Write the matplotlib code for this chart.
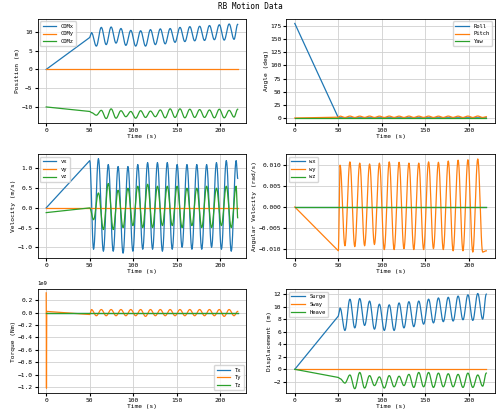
import matplotlib
matplotlib.use("Agg")
import matplotlib.pyplot as plt
import numpy as np

plt.rcParams["font.family"] = ["DejaVu Sans Mono"]
plt.rcParams["font.size"] = 4.5

# time grids (s): start, end of ramp, then extrema of the oscillation
t_pos = [0, 50, 52, 57.6, 63.3, 68.9, 74.6, 80.2, 85.9, 91.5, 97.2, 102.8, 108.5, 114.1,
         119.8, 125.4, 131.1, 136.7, 142.4, 148, 153.7, 159.3, 165, 170.6, 176.3, 181.9,
         187.6, 193.2, 198.9, 204.5, 210.2, 215.8, 220]
t_vel = [0, 50, 54.4, 60.0, 65.7, 71.3, 77.0, 82.6, 88.3, 93.9, 99.6, 105.2, 110.9, 116.5,
         122.2, 127.8, 133.5, 139.1, 144.8, 150.4, 156.1, 161.7, 167.4, 173.0, 178.7, 184.3,
         190.0, 195.6, 201.3, 206.9, 212.6, 218.2, 220]
t_trq = [0, 0.3, 0.6, 50] + t_pos[2:]

surge = [0, 8.5, 9.8, 6.2, 11.2, 6.6, 11.3, 7.0, 10.9, 6.4, 10.4, 6.2, 10.3, 6.2, 10.6, 6.6,
         10.8, 6.8, 10.9, 7.2, 11.2, 7.4, 11.4, 7.6, 11.5, 7.7, 11.7, 7.9, 11.9, 7.8, 12.1, 8.0, 12.0]
heave = [0, -1.3, -1.5, -2.2, -0.9, -3.1, -0.5, -3.0, -1.0, -2.6, -1.2, -3.0, -1.0, -2.8, -1.1,
         -2.6, -0.8, -2.9, -0.5, -2.8, -0.5, -2.9, -0.6, -2.8, -0.7, -2.8, -0.8, -2.9, -0.6, -2.9,
         -0.9, -2.7, -0.6]
com_x = surge
com_y = [0] * len(t_pos)
com_z = [-10, -11.2, -11.5, -12.2, -10.9, -13.1, -10.5, -13.0, -11.0, -12.6, -11.2, -13.0, -11.0,
         -12.8, -11.1, -12.6, -10.8, -12.9, -10.5, -12.8, -10.5, -12.9, -10.6, -12.8, -10.7, -12.8,
         -10.8, -12.9, -10.6, -12.9, -10.9, -12.7, -10.6]
sway = [0] * len(t_pos)

roll = [180, 0.5] + [0.3] * (len(t_pos) - 2)
pitch = [0, 1.5, 3.5, 1.0, 3.6, 1.0, 3.5, 1.1, 3.6, 1.0, 3.5, 1.0, 3.6, 1.1, 3.5, 1.0, 3.6, 1.0,
         3.5, 1.1, 3.6, 1.0, 3.5, 1.0, 3.6, 1.1, 3.5, 1.0, 3.6, 1.0, 3.7, 1.0, 2.5]
yaw = [0] * len(t_pos)

vx = [0, 1.2, -1.05, 1.25, -1.1, 1.1, -1.1, 1.05, -1.15, 1.05, -1.1, 1.1, -1.05, 1.15, -1.05,
      1.15, -1.1, 1.15, -1.05, 1.1, -1.0, 1.1, -1.05, 1.1, -1.05, 1.1, -1.0, 1.15, -1.05, 1.2,
      -1.1, 1.2, 0.75]
vy = [0] * len(t_vel)
vz = [-0.12, 0, -0.3, 0.38, -0.55, 0.62, -0.55, 0.45, -0.5, 0.5, -0.45, 0.55, -0.5, 0.6, -0.5,
      0.55, -0.45, 0.55, -0.45, 0.55, -0.5, 0.5, -0.45, 0.5, -0.5, 0.55, -0.5, 0.5, -0.45, 0.55,
      -0.5, 0.55, -0.25]

wx = [0] * len(t_pos)
wy = [0, -0.0105, 0.0100, -0.0093, 0.0108, -0.0095, 0.0105, -0.0093, 0.0103, -0.0090, 0.0105,
      -0.0102, 0.0108, -0.0102, 0.0107, -0.0100, 0.0105, -0.0102, 0.0105, -0.0102, 0.0108, -0.0100,
      0.0107, -0.0102, 0.0110, -0.0105, 0.0112, -0.0105, 0.0113, -0.0108, 0.0115, -0.0108, -0.0105]
wz = [0] * len(t_pos)

tx = [0] * len(t_trq)
ty = [0.32, -1.22, 0.02, -0.03, 0.05, -0.05, 0.05, -0.05, 0.05, -0.05, 0.05, -0.05, 0.05, -0.05,
      0.05, -0.06, 0.05, -0.05, 0.05, -0.05, 0.05, -0.05, 0.05, -0.05, 0.05, -0.05, 0.05, -0.05,
      0.05, -0.05, 0.05, -0.06, 0.05, -0.05, 0.02]
tz = [0] * len(t_trq)


def smooth(t, y, start):
    # draw straight ramp up to `start`, then half-cosine arcs between the read extrema
    t, y = list(t), list(y)
    xs, ys = t[:start + 1], y[:start + 1]
    for i in range(start, len(t) - 1):
        s = np.linspace(0, 1, 12)[1:]
        w = (1 - np.cos(np.pi * s)) / 2
        xs += list(t[i] + (t[i + 1] - t[i]) * s)
        ys += list(y[i] + (y[i + 1] - y[i]) * w)
    return xs, ys


fig, axes = plt.subplots(3, 2, figsize=(5, 4.16), dpi=100)
fig.suptitle("RB Motion Data", fontsize=5.5, y=0.995)

panels = [
    (axes[0, 0], t_pos, [com_x, com_y, com_z], ["COMx", "COMy", "COMz"], "Position (m)", "upper left", 2, (-14.2, 13.5)),
    (axes[0, 1], t_pos, [roll, pitch, yaw], ["Roll", "Pitch", "Yaw"], "Angle (deg)", "upper right", 2, (-9, 189)),
    (axes[1, 0], t_vel, [vx, vy, vz], ["vx", "vy", "vz"], "Velocity (m/s)", "upper left", 1, (-1.27, 1.37)),
    (axes[1, 1], t_pos, [wx, wy, wz], ["wx", "wy", "wz"], "Angular Velocity (rad/s)", "upper left", 1, (-0.0122, 0.0127)),
    (axes[2, 0], t_trq, [[v * 1e9 for v in tx], [v * 1e9 for v in ty], [v * 1e9 for v in tz]],
     ["Tx", "Ty", "Tz"], "Torque (Nm)", "lower right", 3, (-1.3e9, 0.38e9)),
    (axes[2, 1], t_pos, [surge, sway, heave], ["Surge", "Sway", "Heave"], "Displacement (m)", "upper left", 2, (-3.8, 12.8)),
]

for ax, t, series, labels, ylab, loc, start, ylim in panels:
    for s, lab in zip(series, labels):
        ax.plot(*smooth(t, s, start), lw=0.9, label=lab)
    ax.set_xlabel("Time (s)", labelpad=1)
    ax.set_ylabel(ylab, labelpad=1)
    ax.grid(True, color="#d0d0d0", lw=0.6)
    ax.tick_params(length=2, pad=1.5)
    ax.set_xlim(-10, 230)
    ax.set_ylim(*ylim)
    ax.legend(loc=loc, fontsize=4, handlelength=2.5)
    for sp in ax.spines.values():
        sp.set_linewidth(0.6)

axes[0, 1].set_yticks(range(0, 176, 25))
axes[2, 1].set_yticks(range(-2, 13, 2))
axes[2, 0].set_yticks(np.arange(-1.2, 0.21, 0.2) * 1e9)
axes[2, 0].yaxis.get_offset_text().set_fontsize(4)

fig.subplots_adjust(left=0.075, right=0.99, top=0.955, bottom=0.055, wspace=0.19, hspace=0.3)
fig.savefig("out.png")
